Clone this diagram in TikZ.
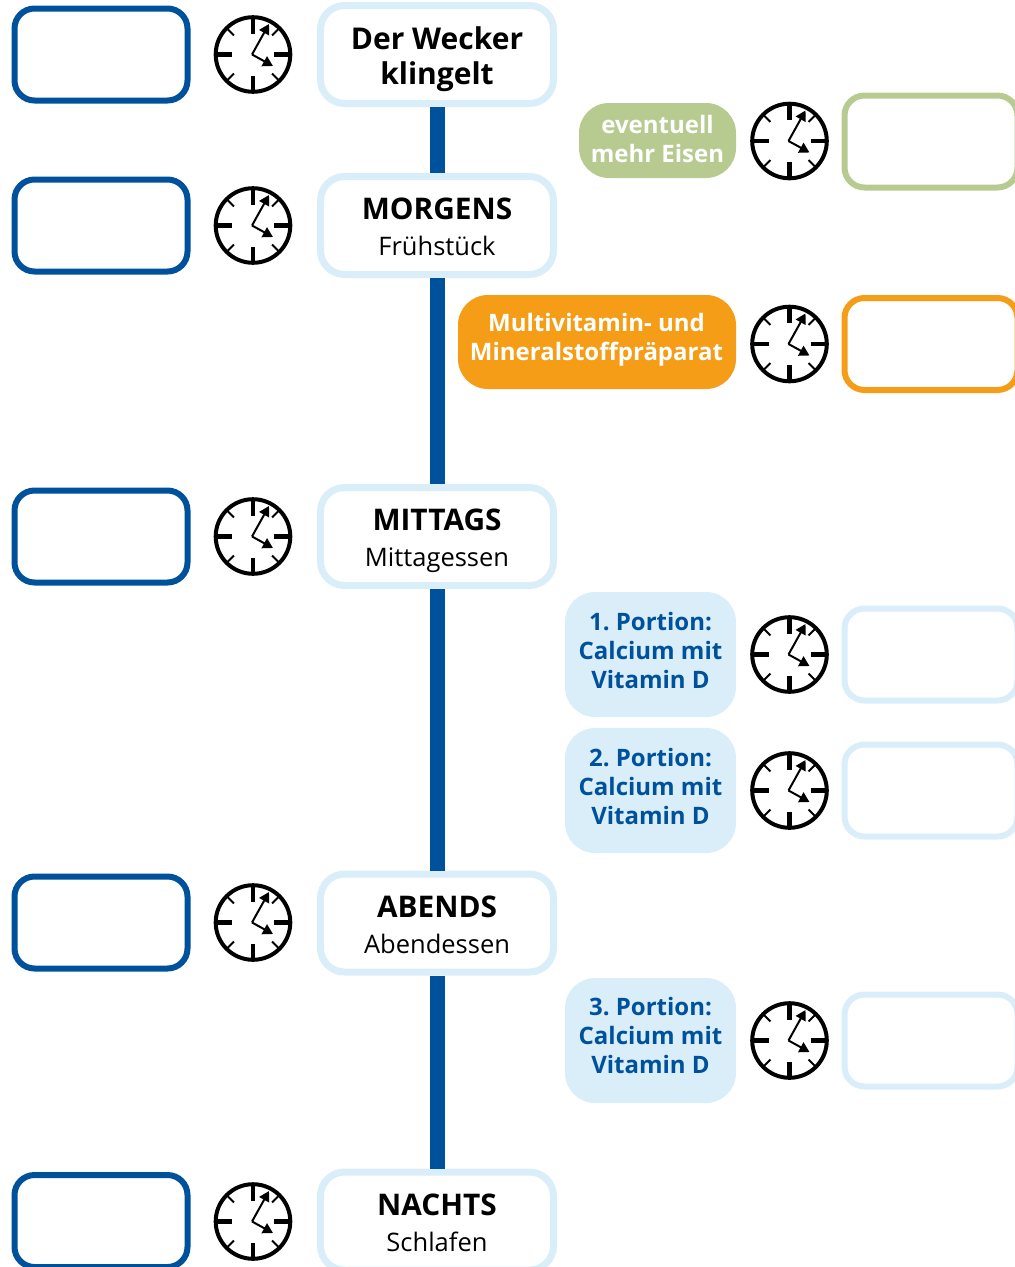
\documentclass[tikz,border=0pt]{standalone}
\usepackage{fontspec}
\setmainfont{Open Sans}
\usetikzlibrary{arrows.meta}
\definecolor{navy}{HTML}{00519C}
\definecolor{pale}{HTML}{DAEEFA}
\definecolor{leaf}{HTML}{B7CB91}
\definecolor{amber}{HTML}{F59D17}
\newcommand{\headline}[1]{{\fontsize{29.8}{36}\selectfont\bfseries #1}}
\frenchspacing
\tikzset{
  x=1pt,y=-1pt,
  timebox/.style={draw=#1,line width=6pt,rounded corners=20pt,minimum width=173pt,minimum height=92pt,inner sep=0pt,fill=white},
  stage/.style={draw=pale,line width=7pt,rounded corners=24pt,minimum width=233pt,minimum height=98pt,inner sep=0pt,fill=white},
  stagetext/.style={align=center,inner sep=0pt,font=\fontsize{25.5}{36}\selectfont},
  pill/.style={fill=#1,rounded corners=30pt,inner sep=0pt},
  spine/.style={draw=navy,line width=15pt},
  pilltext/.style={font=\fontsize{24}{29}\selectfont\bfseries,align=center,inner sep=0pt},
  clockicon/.pic={
    \draw[line width=4pt] (0,0) circle[radius=37.3pt];
    \foreach \a in {0,90,180,270}
      \draw[line width=4.4pt] (\a:37pt) -- (\a:21pt);
    \foreach \a in {45,135,225,315}
      \draw[line width=2pt] (\a:36pt) -- (\a:27pt);
    \draw[line width=2pt,-{Triangle[length=10pt,width=11pt]}] (-1,0) -- (16,-30.5);
    \draw[line width=2pt,-{Triangle[length=10pt,width=11pt]}] (-1,0) -- (20,11.5);
  }
}
\begin{document}
\begin{tikzpicture}
\clip (0,0) rectangle (1015,1267);
% stages
\node[stage] (s1) at (437,54.5) {};
\node[stage] (s2) at (437,225.5) {};
\node[stage] (s3) at (437,536.5) {};
\node[stage] (s4) at (437,923) {};
\node[stage] (s5) at (437,1221) {};
\node[stagetext,font=\fontsize{30}{35}\selectfont\bfseries] (t1) at (437,59.5) {Der Wecker\\klingelt};
\node[stagetext] (t2) at (437,226.5) {\headline{MORGENS}\\Frühstück};
\node[stagetext] (t3) at (437,541) {\headline{MITTAGS}\\Mittagessen};
\node[stagetext] (t4) at (437,924.5) {\headline{ABENDS}\\Abendessen};
\node[stagetext] (t5) at (437,1222.5) {\headline{NACHTS}\\Schlafen};
% spine
\foreach \a/\b in {s1/s2,s2/s3,s3/s4,s4/s5}
  \draw[spine] (\a.south) -- (\b.north);
% left boxes
\node[timebox=navy] (l1) at (101,54.5) {};
\node[timebox=navy] (l2) at (101,225.5) {};
\node[timebox=navy] (l3) at (101,536.5) {};
\node[timebox=navy] (l4) at (101,922.5) {};
\node[timebox=navy] (l5) at (101,1221) {};
% left clocks
\foreach \y in {54.5,225.5,536.5,922.5,1221.5}
  \pic at (253,\y) {clockicon};
% pills
\node[pill=leaf,minimum width=157pt,minimum height=75pt] (p1) at (657.5,140.5) {};
\node[pill=amber,minimum width=278pt,minimum height=94pt] (p2) at (597,342) {};
\node[pill=pale,minimum width=171pt,minimum height=125pt] (p3) at (650.5,654.5) {};
\node[pill=pale,minimum width=171pt,minimum height=125pt] (p4) at (650.5,790.5) {};
\node[pill=pale,minimum width=171pt,minimum height=125pt] (p5) at (650.5,1040.5) {};
\node[pilltext,text=white] (q1) at (657.5,138.5) {eventuell\\mehr Eisen};
\node[pilltext,text=white] (q2) at (596.5,339.5) {Multivitamin- und\\Mineralstoffpräparat};
\node[pilltext,text=navy] (q3) at (650.5,650.5) {1. Portion:\\Calcium mit\\Vitamin D};
\node[pilltext,text=navy] (q4) at (650.5,786.5) {2. Portion:\\Calcium mit\\Vitamin D};
\node[pilltext,text=navy] (q5) at (650.5,1035.5) {3. Portion:\\Calcium mit\\Vitamin D};
% right clocks
\foreach \y in {141,344,654.5,790.5,1040.5}
  \pic at (789.5,\y) {clockicon};
% right boxes
\node[timebox=leaf] (r1) at (931,141.5) {};
\node[timebox=amber] (r2) at (931,344) {};
\node[timebox=pale] (r3) at (931,654.5) {};
\node[timebox=pale] (r4) at (931,790.5) {};
\node[timebox=pale] (r5) at (931,1040.5) {};
\end{tikzpicture}
\end{document}
